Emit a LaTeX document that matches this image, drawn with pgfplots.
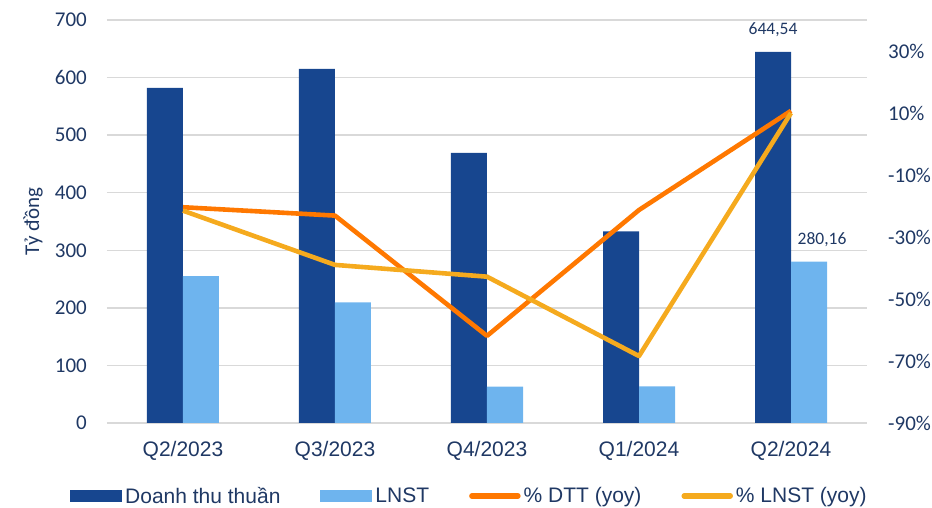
\documentclass[border=0pt]{standalone}
\usepackage{pgfplots}
\pgfplotsset{compat=1.18}
\usepackage{fontspec}
\setmainfont{Carlito}
\newfontfamily\arialf{Liberation Sans}
\definecolor{txt}{RGB}{31,56,100}
\definecolor{darkbar}{RGB}{23,70,143}
\definecolor{lightbar}{RGB}{110,180,238}
\definecolor{dtt}{RGB}{255,120,0}
\definecolor{lnst}{RGB}{245,170,30}
\definecolor{gridc}{RGB}{217,217,217}
\begin{document}
\begin{tikzpicture}
\useasboundingbox (-107pt,-85pt) rectangle (825pt,423pt);
\begin{axis}[
  scale only axis, width=760pt, height=403pt,
  at={(0,0)}, anchor=south west,
  xmin=-0.5, xmax=4.5, ymin=0, ymax=700,
  xtick={0,...,4}, xticklabels={Q2/2023,Q3/2023,Q4/2023,Q1/2024,Q2/2024},
  ytick={0,100,...,700},
  axis line style={draw=none},
  major tick length=0pt,
  ymajorgrids, grid style={gridc, line width=1.3pt},
  xticklabel style={font=\arialf\fontsize{21}{25}\selectfont, text=txt, inner sep=0pt, anchor=north, yshift=-18pt},
  yticklabel style={font=\fontsize{21}{25}\selectfont, text=txt, inner sep=0pt, anchor=east, xshift=-20pt},
  /pgf/number format/assume math mode=true,
  ylabel={Tỷ đồng},
  ylabel style={at={(axis description cs:-0.0974,0.5)}, anchor=center, font=\fontsize{21}{25}\selectfont, text=txt},
  legend style={at={(axis description cs:-0.0487,-0.181)}, anchor=west, draw=none, fill=none,
    font=\arialf\fontsize{21}{25}\selectfont, text=txt, inner sep=0pt,
    /tikz/every even column/.append style={column sep=37pt},
    nodes={inner sep=3pt}},
  legend columns=4, legend cell align=left,
]
\addplot[ybar, bar width=36pt, bar shift=-18pt, fill=darkbar, draw=none,
  legend image code/.code={\fill[darkbar] (0pt,-6pt) rectangle (52pt,6pt);}]
  coordinates {(0,582) (1,615) (2,469) (3,333) (4,644.54)};
\addlegendentry{Doanh thu thuần}
\addplot[ybar, bar width=36pt, bar shift=18pt, fill=lightbar, draw=none,
  legend image code/.code={\fill[lightbar] (0pt,-6pt) rectangle (52pt,6pt);}]
  coordinates {(0,255) (1,209.5) (2,63) (3,63.5) (4,280.16)};
\addlegendentry{LNST}
\addlegendimage{legend image code/.code={\draw[dtt, line width=5.5pt, line cap=round] (3pt,0pt) -- (49pt,0pt);}}
\addlegendentry{\% DTT (yoy)}
\addlegendimage{legend image code/.code={\draw[lnst, line width=5.5pt, line cap=round] (3pt,0pt) -- (49pt,0pt);}}
\addlegendentry{\% LNST (yoy)}
\node[font=\fontsize{17.5}{20}\selectfont, text=txt, xshift=-18pt, yshift=22pt] at (axis cs:4,644.54) {644,54};
\node[font=\fontsize{17.5}{20}\selectfont, text=txt, xshift=31pt, yshift=22pt] at (axis cs:4,280.16) {280,16};
\end{axis}
\begin{axis}[
  scale only axis, width=760pt, height=403pt,
  at={(0,0)}, anchor=south west,
  xmin=-0.5, xmax=4.5, ymin=-90, ymax=40,
  hide x axis,
  axis y line*=right,
  axis line style={draw=none},
  major tick length=0pt,
  ytick={-90,-70,-50,-30,-10,10,30},
  yticklabels={-90\%,-70\%,-50\%,-30\%,-10\%,10\%,30\%},
  yticklabel style={font=\fontsize{21}{25}\selectfont, text=txt, inner sep=0pt, anchor=west, xshift=21pt},
]
\addplot[dtt, line width=4.6pt, line join=round, mark=none]
  coordinates {(0,-20.4) (1,-23.1) (2,-61.9) (3,-21.3) (4,10.7)};
\addplot[lnst, line width=4.6pt, line join=round, mark=none]
  coordinates {(0,-21.5) (1,-39.0) (2,-42.8) (3,-68.4) (4,10.0)};
\end{axis}
\end{tikzpicture}
\end{document}
